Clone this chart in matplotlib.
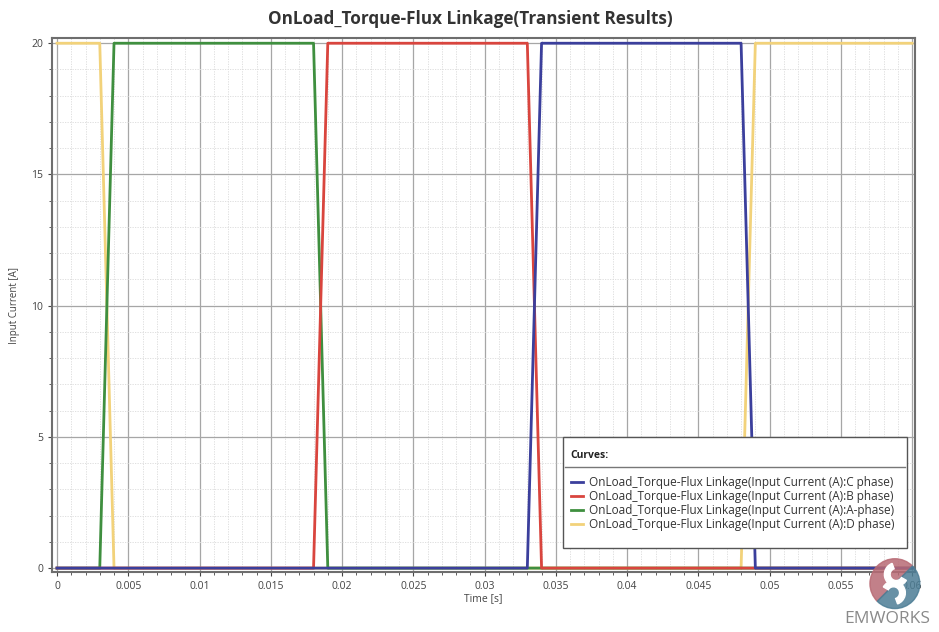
import matplotlib.pyplot as plt
from matplotlib.lines import Line2D
from matplotlib.patches import Rectangle, Wedge

plt.rcParams['font.family'] = ['Open Sans', 'DejaVu Sans']

# time points [s] and input current [A] per phase
t_c = [0, 0.033, 0.034, 0.048, 0.049, 0.06]
i_c = [0, 0, 20, 20, 0, 0]
t_b = [0, 0.018, 0.019, 0.033, 0.034, 0.06]
i_b = [0, 0, 20, 20, 0, 0]
t_a = [0, 0.003, 0.004, 0.018, 0.019, 0.06]
i_a = [0, 0, 20, 20, 0, 0]
t_d = [0, 0.003, 0.004, 0.048, 0.049, 0.06]
i_d = [20, 20, 0, 0, 20, 20]

labels = ["OnLoad_Torque-Flux Linkage(Input Current (A):C phase)",
          "OnLoad_Torque-Flux Linkage(Input Current (A):B phase)",
          "OnLoad_Torque-Flux Linkage(Input Current (A):A-phase)",
          "OnLoad_Torque-Flux Linkage(Input Current (A):D phase)"]
colors = ["#3b3f9c", "#d9453e", "#3f8f3f", "#f2d27a"]

xticks = [0, 0.005, 0.01, 0.015, 0.02, 0.025, 0.03, 0.035, 0.04, 0.045, 0.05, 0.055, 0.06]
xticklabels = ["0", "0.005", "0.01", "0.015", "0.02", "0.025", "0.03", "0.035",
               "0.04", "0.045", "0.05", "0.055", "0.06"]
yticks = [0, 5, 10, 15, 20]

fig = plt.figure(figsize=(9.39, 6.32), dpi=100)
ax = fig.add_axes([0.0554, 0.0949, 0.9190, 0.8450])

# D phase drawn first so the others sit on top of it
ax.plot(t_d, i_d, color=colors[3], lw=2, zorder=3)
ax.plot(t_a, i_a, color=colors[2], lw=2, zorder=4)
ax.plot(t_b, i_b, color=colors[1], lw=2, zorder=5)
ax.plot(t_c, i_c, color=colors[0], lw=2, zorder=6)

ax.set_xlim(-0.00035, 0.0602)
ax.set_ylim(-0.15, 20.2)
ax.set_xticks(xticks)
ax.set_xticklabels(xticklabels)
ax.set_yticks(yticks)
ax.set_xticks([i * 0.001 for i in range(61)], minor=True)
ax.set_yticks(list(range(21)), minor=True)
ax.grid(which='major', color='#a6a6a6', lw=0.9)
ax.grid(which='minor', color='#dadada', lw=0.6, ls=(0, (1.5, 1.5)))
ax.set_axisbelow(True)
ax.tick_params(which='both', labelsize=7.5, colors='#444444', length=3)
ax.tick_params(which='minor', length=2)
for s in ax.spines.values():
    s.set_color('#6e6e6e')
    s.set_linewidth(1.5)

ax.set_title("OnLoad_Torque-Flux Linkage(Transient Results)", fontsize=12.3,
             fontweight='bold', color='#333333', pad=10, x=0.485)
ax.set_xlabel("Time [s]", fontsize=7.5, color='#444444', labelpad=1)
ax.set_ylabel("Input Current [A]", fontsize=7, color='#444444', labelpad=8)

# legend box drawn by hand, like the "Curves:" panel of the source tool
ax.add_patch(Rectangle((0.592, 0.045), 0.399, 0.208, transform=ax.transAxes,
                       facecolor='white', edgecolor='#555555', lw=1.0, zorder=20))
ax.text(0.601, 0.219, "Curves:", transform=ax.transAxes, fontsize=7.5,
        fontweight='bold', color='#222222', va='center', zorder=21)
ax.add_line(Line2D([0.594, 0.989], [0.197, 0.197], transform=ax.transAxes,
                   color='#777777', lw=1.0, zorder=21))
entry_y = [0.1685, 0.1423, 0.1161, 0.0899]
for k in range(4):
    ax.add_line(Line2D([0.601, 0.615], [entry_y[k], entry_y[k]], transform=ax.transAxes,
                       color=colors[k], lw=2, zorder=21))
    ax.text(0.622, entry_y[k], labels[k], transform=ax.transAxes, fontsize=8.5,
            color='#333333', va='center', zorder=21)

# EMWORKS logo
lax = fig.add_axes([0.925, 0.035, 0.056, 0.083])
lax.set_xlim(-1, 1)
lax.set_ylim(-1, 1)
lax.set_aspect('equal')
lax.axis('off')
lax.add_patch(Wedge((0, 0), 0.95, 45, 225, color='#b86a74', alpha=0.85))
lax.add_patch(Wedge((0, 0), 0.95, 225, 405, color='#4c7d95', alpha=0.85))
lax.add_patch(Wedge((0.05, 0.35), 0.45, 110, 330, width=0.22, color='white'))
lax.add_patch(Wedge((-0.05, -0.35), 0.45, 290, 510, width=0.22, color='white'))
fig.text(0.945, 0.02, "EMWORKS", fontsize=12.5, color='#8a8a8a',
         ha='center', va='center')

fig.savefig("out.png", dpi=100)
